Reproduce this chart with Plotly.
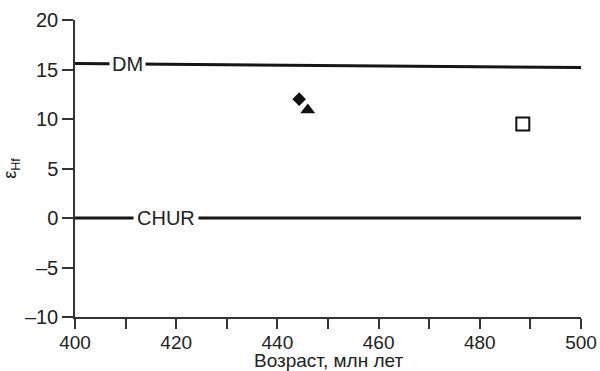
import plotly.graph_objects as go
import numpy as np

# Reference lines
dm_age = [400, 500]
dm_eps = [15.6, 15.2]
chur_age = [400, 500]
chur_eps = [0, 0]

# Samples
diamond_age = [444.3]
diamond_eps = [12.0]
triangle_age = [446.0]
triangle_eps = [10.9]
square_age = [488.5]
square_eps = [9.5]

x_tickvals = [400, 420, 440, 460, 480, 500]
y_tickvals = [-10, -5, 0, 5, 10, 15, 20]
y_ticktext = ["\u201310", "\u20135", "0", "5", "10", "15", "20"]

FONT = "Liberation Sans, Arial, sans-serif"
INK = "#222222"
FS = 20

fig = go.Figure()
fig.add_trace(go.Scatter(x=dm_age, y=dm_eps, mode="lines",
                         line=dict(color="#151515", width=3), showlegend=False, cliponaxis=False))
fig.add_trace(go.Scatter(x=chur_age, y=chur_eps, mode="lines",
                         line=dict(color="#151515", width=3), showlegend=False, cliponaxis=False))
fig.add_trace(go.Scatter(x=diamond_age, y=diamond_eps, mode="markers",
                         marker=dict(symbol="diamond", size=10.5, color="#111111", line=dict(width=0)),
                         showlegend=False))
fig.add_trace(go.Scatter(x=triangle_age, y=triangle_eps, mode="markers",
                         marker=dict(symbol="triangle-up", size=13, color="#111111", line=dict(width=0)),
                         showlegend=False))
fig.add_trace(go.Scatter(x=square_age, y=square_eps, mode="markers",
                         marker=dict(symbol="square-open", size=13, color="#111111", line=dict(width=2)),
                         showlegend=False, cliponaxis=False))

dm_label_x = 410.4
chur_label_x = 418.0
fig.add_annotation(x=dm_label_x, y=float(np.interp(dm_label_x, dm_age, dm_eps)), text="DM",
                   showarrow=False, bgcolor="white", borderpad=2,
                   font=dict(family=FONT, size=FS, color=INK))
fig.add_annotation(x=chur_label_x, y=float(np.interp(chur_label_x, chur_age, chur_eps)), text="CHUR",
                   showarrow=False, bgcolor="white", borderpad=3,
                   font=dict(family=FONT, size=FS, color=INK))
# x-axis title
fig.add_annotation(xref="paper", yref="paper", x=0.5, y=-0.148, yanchor="middle",
                   text="Возраст, млн лет", showarrow=False,
                   font=dict(family=FONT, size=19, color=INK))

fig.update_layout(
    width=600, height=371,
    margin=dict(l=75, r=19, t=20, b=54),
    paper_bgcolor="white", plot_bgcolor="white",
    font=dict(family=FONT, size=FS, color=INK),
)
fig.update_xaxes(
    range=[400, 500], tickvals=x_tickvals, ticks="outside", ticklen=10, tickwidth=1.5,
    tickcolor="#333333", showline=True, linecolor="#333333", linewidth=1.5,
    showgrid=False, zeroline=False, automargin=False, ticklabelstandoff=-3,
    minor=dict(dtick=10, tick0=400, ticks="outside", ticklen=10, tickwidth=1.5, tickcolor="#333333", showgrid=False),
    tickfont=dict(size=19),
)
fig.update_yaxes(
    range=[-10, 20], tickvals=y_tickvals, ticktext=y_ticktext, ticks="outside", ticklen=11,
    tickwidth=1.5, tickcolor="#333333", showline=True, linecolor="#333333", linewidth=1.5,
    showgrid=False, zeroline=False, ticklabelstandoff=0, automargin=False,
    title=dict(text="ε<sub>Hf</sub>", standoff=12, font=dict(size=18)),
    tickfont=dict(size=FS),
)

fig.write_html("out.html")
